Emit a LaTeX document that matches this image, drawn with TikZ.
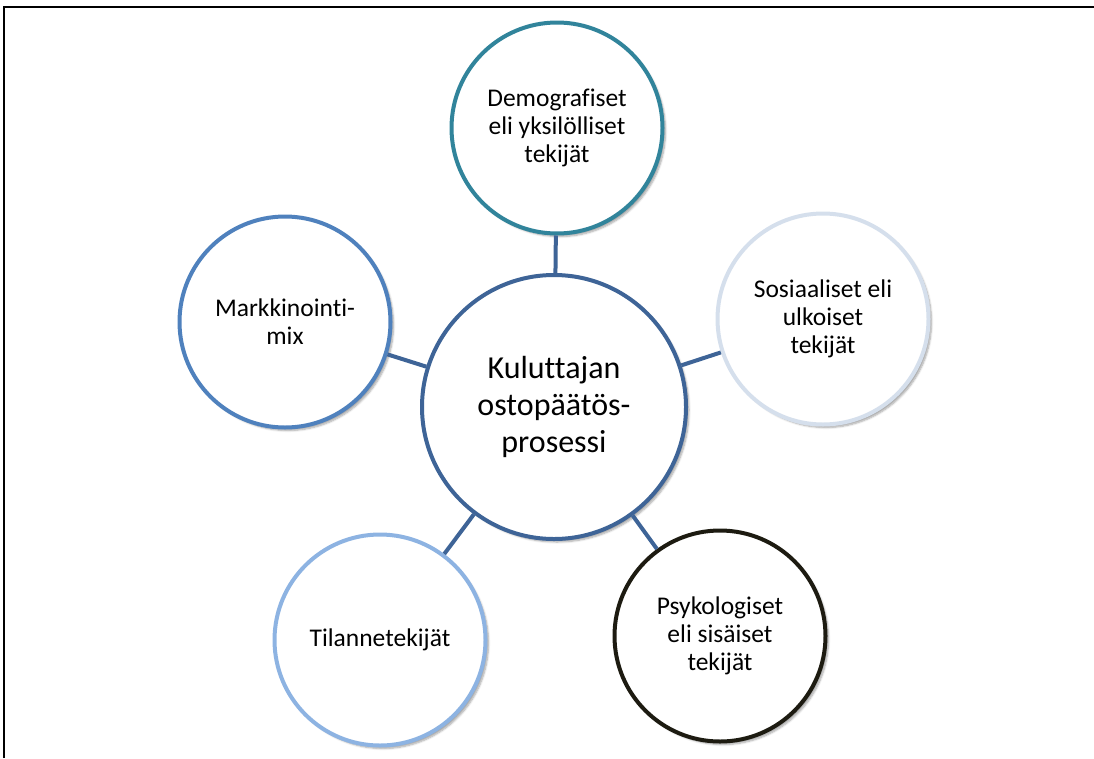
\documentclass[tikz,border=0pt]{standalone}
\usepackage{fontspec}
\setmainfont{Carlito}[Ligatures=CommonOff]
\usepackage{tikz}
\usetikzlibrary{shapes,shadows.blur}

\definecolor{hubblue}{HTML}{3E6497}
\definecolor{demoteal}{HTML}{31849B}
\definecolor{sosgray}{HTML}{D5DFEC}
\definecolor{psykblack}{HTML}{1D1B11}
\definecolor{tilablue}{HTML}{8DB3E2}
\definecolor{markblue}{HTML}{4F81BD}

\tikzset{
  factor/.style={draw,shape=circle,line width=4pt,fill=white,minimum size=211pt,
    inner sep=0pt,align=center,font=\fontsize{25.5}{28}\selectfont,
    blur shadow={shadow xshift=3pt,shadow yshift=-3pt,shadow blur steps=6,shadow opacity=35}},
  hub/.style={factor,minimum size=264pt,font=\fontsize{32}{37}\selectfont},
  link/.style={draw=hubblue,line width=4pt}
}

\begin{document}
\begin{tikzpicture}[x=1pt,y=-1pt]
\useasboundingbox (0,0) rectangle (1094,758);
\draw [line width=1.5pt] (4,758) -- (4,7) -- (1094,7);

\node (Prosessi) at (554,407) [hub,draw=hubblue]{Kuluttajan\\ostopäätös-\\prosessi};
\node (Demografiset) at (557,128) [factor,draw=demoteal]{Demografiset\\eli yksilölliset\\tekijät};
\node (Sosiaaliset) at (823,319) [factor,draw=sosgray]{Sosiaaliset eli\\ulkoiset\\tekijät};
\node (Psykologiset) at (720,636) [factor,draw=psykblack]{Psykologiset\\eli sisäiset\\tekijät};
\node (Tilanne) at (380,640) [factor,draw=tilablue]{Tilannetekijät};
\node (Markkinointi) at (285,322) [factor,draw=markblue]{Markkinointi-\\mix};

\draw [link] (Prosessi) -- (Demografiset);
\draw [link] (Prosessi) -- (Sosiaaliset);
\draw [link] (Prosessi) -- (Psykologiset);
\draw [link] (Prosessi) -- (Tilanne);
\draw [link] (Prosessi) -- (Markkinointi);

\end{tikzpicture}
\end{document}
